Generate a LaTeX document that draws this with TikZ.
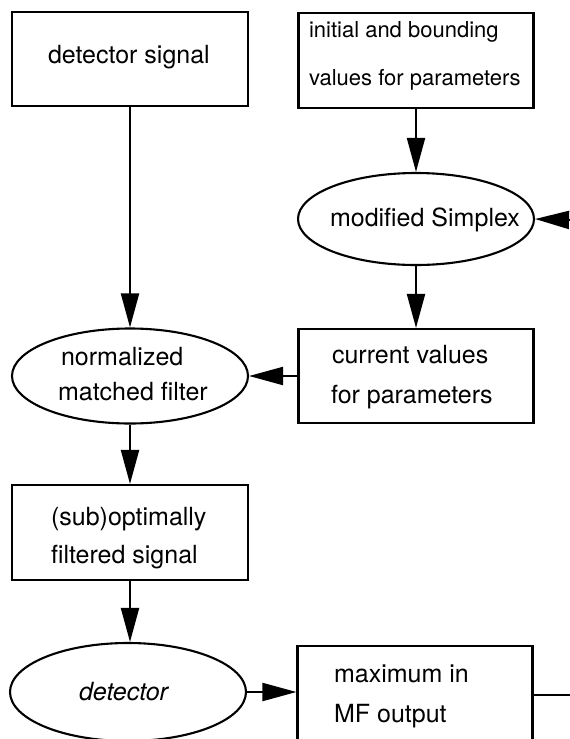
\documentclass[tikz,border=0pt]{standalone}
\usepackage{fontspec}
\setmainfont{TeX Gyre Heros}
\usetikzlibrary{arrows.meta,shapes.geometric}
\begin{document}
\begin{tikzpicture}[x=1pt,y=-1pt, line width=2.1pt,
  box/.style={draw, rectangle, minimum width=235pt, minimum height=94pt, inner sep=0pt},
  oval/.style={draw, ellipse, minimum width=236pt, minimum height=94pt, inner sep=0pt},
  txt/.style={anchor=base west, inner sep=0pt, font=\fontsize{25}{30}\selectfont},
  smalltxt/.style={txt, font=\fontsize{22}{26}\selectfont},
  arr/.style={-{Triangle[length=34pt,width=18pt]}}]
\useasboundingbox (0,0) rectangle (570,739);
\clip (0,0) rectangle (570,739);
% shapes
\node[box, minimum width=236pt] (sig) at (130,59) {};
\node[box, minimum height=95pt] (init) at (416,60.5) {};
\node[oval, minimum height=92pt] (simplex) at (416,219) {};
\node[box] (cur) at (416,376) {};
\node[oval, minimum height=95pt] (nmf) at (130,376) {};
\node[box, minimum width=236pt, minimum height=95pt] (sub) at (130,532.5) {};
\node[oval, minimum height=98pt] (det) at (128,692) {};
\node[box, minimum height=98pt] (max) at (415,695) {};
\coordinate (fbin) at (572,220);
\coordinate (fbout) at (572,695);
% connectors
\draw[arr] (sig.south) -- (nmf.north);
\draw[arr] (init.south) -- (simplex.north);
\draw[arr] (simplex.south) -- (cur.north);
\draw[arr] (cur.west) -- (nmf.east);
\draw[arr] (nmf.south) -- (sub.north);
\draw[arr] (sub.south) -- (sub.south |- det.north);
\draw[arr] (det.east) -- (det.east -| max.west);
\draw (max.east) -- (fbout);
\draw[arr] (fbin) -- (simplex.east);
% texts
\node[txt] (t1) at (47,63) {detector signal};
\node[smalltxt] (t2a) at (308,37) {initial and bounding};
\node[smalltxt] (t2b) at (308,85) {values for parameters};
\node[txt] (t3) at (329,226) {modified Simplex};
\node[txt] (t4a) at (331,363) {current values};
\node[txt] (t4b) at (330,403) {for parameters};
\node[txt] (t5a) at (60,365) {normalized};
\node[txt] (t5b) at (57,400) {matched filter};
\node[txt] (t6a) at (50,525) {(sub)optimally};
\node[txt] (t6b) at (50,563) {filtered signal};
\node[txt, font=\fontsize{25}{30}\selectfont\itshape] (t7) at (78,700) {detector};
\node[txt] (t8a) at (333,682) {maximum in};
\node[txt] (t8b) at (333,722) {MF output};
\end{tikzpicture}
\end{document}
